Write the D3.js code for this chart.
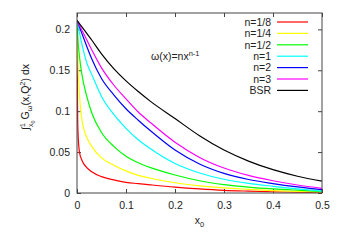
<!DOCTYPE html>
<html>
  <head>
    <script src="https://d3js.org/d3.v7.min.js"></script>
    <style>
      body { margin: 0; background: #fff; overflow: hidden; }
      svg { display: block; }
      text { font-family: "Liberation Sans", Arial, sans-serif; fill: #222; }
      .axis .domain { display: none; }
      .axis .tick line { stroke: #444; }
      .axis .tick text { font-size: 10.5px; fill: #222; }
    </style>
  </head>
  <body>
    <svg width="345" height="241"></svg>
    <script>
      // x0 grid, dense near zero where the small-n curves fall steeply
      const xs = [0, 0.001, 0.002, 0.005, 0.01, 0.02, 0.03, 0.05, 0.075, 0.1, 0.125, 0.15, 0.2, 0.25, 0.3, 0.35, 0.4, 0.45, 0.5];

      const n18 = [0.211, 0.110, 0.075, 0.050, 0.040, 0.031, 0.026, 0.020, 0.016, 0.013, 0.0115, 0.010, 0.0072, 0.005, 0.0033, 0.0023, 0.0015, 0.001, 0.0005];
      const n14 = [0.211, 0.180, 0.158, 0.120, 0.090, 0.068, 0.057, 0.043, 0.034, 0.027, 0.0215, 0.018, 0.0125, 0.0088, 0.0062, 0.0045, 0.003, 0.002, 0.001];
      const n12 = [0.211, 0.198, 0.187, 0.167, 0.145, 0.118, 0.098, 0.074, 0.057, 0.045, 0.037, 0.031, 0.022, 0.015, 0.0103, 0.0072, 0.005, 0.0034, 0.002];
      const n1  = [0.211, 0.208, 0.205, 0.196, 0.182, 0.159, 0.145, 0.118, 0.096, 0.079, 0.065, 0.054, 0.036, 0.0245, 0.0168, 0.0118, 0.0082, 0.005, 0.0024];
      const n2  = [0.211, 0.2095, 0.208, 0.203, 0.195, 0.179, 0.164, 0.140, 0.120, 0.103, 0.089, 0.076, 0.0525, 0.0355, 0.024, 0.0165, 0.0115, 0.0074, 0.004];
      const n3  = [0.211, 0.2098, 0.2085, 0.205, 0.199, 0.187, 0.175, 0.153, 0.132, 0.115, 0.099, 0.086, 0.062, 0.0435, 0.0305, 0.0215, 0.015, 0.0098, 0.0057];
      const bsr = [0.211, 0.2102, 0.2095, 0.207, 0.203, 0.195, 0.187, 0.170, 0.152, 0.137, 0.124, 0.112, 0.091, 0.070, 0.0525, 0.039, 0.0285, 0.0205, 0.0146];

      const labels = ["n=1/8", "n=1/4", "n=1/2", "n=1", "n=2", "n=3", "BSR"];
      const colors = ["#ff0000", "#ffff00", "#00ff00", "#00ffff", "#0000ff", "#ff00ff", "#000000"];
      const xTicks = [0, 0.1, 0.2, 0.3, 0.4, 0.5];
      const yTicks = [0, 0.05, 0.1, 0.15, 0.2];

      const series = [n18, n14, n12, n1, n2, n3, bsr].map((vals, i) => ({
        label: labels[i],
        color: colors[i],
        points: vals.map((v, j) => [xs[j], v])
      }));

      const svg = d3.select("svg");
      const margin = {top: 13, right: 23, bottom: 48, left: 77};
      const width = +svg.attr("width"), height = +svg.attr("height");
      const innerWidth = width - margin.left - margin.right;
      const innerHeight = height - margin.top - margin.bottom;

      const x = d3.scaleLinear().domain([0, 0.5]).range([0, innerWidth]);
      const y = d3.scaleLinear().domain([0, 0.22]).range([innerHeight, 0]);

      // lays out text pieces (sub/superscripts) as separate text elements
      function richText(parent, pieces, anchorMiddle) {
        const grp = parent.append("g");
        let cx = 0;
        pieces.forEach(p => {
          const t = grp.append("text")
            .attr("x", cx + (p.dx || 0)).attr("y", p.dy || 0)
            .style("font-size", (p.size || 10.5) + "px")
            .text(p.t);
          cx += (p.dx || 0) + (p.stay ? 0 : t.node().getComputedTextLength());
        });
        if (anchorMiddle) grp.attr("transform", `translate(${-cx / 2}, 0)`);
        return grp;
      }

      const g = svg.append("g").attr("transform", `translate(${margin.left}, ${margin.top})`);

      // axes, gnuplot style: inward ticks, mirrored
      g.append("g").attr("class", "axis")
        .attr("transform", `translate(0, ${innerHeight})`)
        .call(d3.axisBottom(x).tickValues(xTicks).tickSizeInner(-4).tickPadding(9)
          .tickFormat(d3.format("")));
      g.append("g").attr("class", "axis")
        .call(d3.axisTop(x).tickValues(xTicks).tickSizeInner(-4))
        .selectAll("text").remove();
      g.append("g").attr("class", "axis")
        .call(d3.axisLeft(y).tickValues(yTicks).tickSizeInner(-4).tickPadding(7)
          .tickFormat(d3.format("")));
      g.append("g").attr("class", "axis")
        .attr("transform", `translate(${innerWidth}, 0)`)
        .call(d3.axisRight(y).tickValues(yTicks).tickSizeInner(-4))
        .selectAll("text").remove();

      const line = d3.line()
        .x(d => x(d[0]))
        .y(d => y(d[1]))
        .curve(d3.curveMonotoneX);

      g.append("defs").append("clipPath").attr("id", "clip")
        .append("rect").attr("width", innerWidth).attr("height", innerHeight);

      g.append("g").attr("clip-path", "url(#clip)")
        .selectAll("path").data(series).enter().append("path")
          .attr("d", d => line(d.points))
          .attr("fill", "none")
          .attr("stroke", d => d.color)
          .attr("stroke-width", 1.2);

      g.append("rect")
        .attr("width", innerWidth).attr("height", innerHeight)
        .attr("fill", "none").attr("stroke", "#444").attr("stroke-width", 1);

      // legend
      const legend = g.append("g").attr("transform", "translate(194, 9)");
      const row = legend.selectAll("g").data(series).enter().append("g")
        .attr("transform", (d, i) => `translate(0, ${i * 11.4})`);
      row.append("text")
        .attr("text-anchor", "end").attr("y", 3.7)
        .style("font-size", "10.5px")
        .text(d => d.label);
      row.append("line")
        .attr("x1", 6).attr("x2", 37)
        .attr("stroke", d => d.color).attr("stroke-width", 1.2);

      // annotation
      richText(g.append("g").attr("transform", "translate(74, 47)"), [
        {t: "ω(x)=nx"},
        {t: "n-1", size: 7.5, dy: -4}
      ]);

      // x label
      richText(svg.append("g").attr("transform", `translate(${margin.left + innerWidth / 2}, 224)`), [
        {t: "x"},
        {t: "0", size: 7.5, dy: 3}
      ], true);

      // y label
      richText(svg.append("g")
        .attr("transform", `translate(29, ${margin.top + innerHeight / 2 - 6}) rotate(-90)`), [
        {t: "∫"},
        {t: "1", size: 7, dy: -4, stay: true},
        {t: "x", size: 7, dy: 4},
        {t: "0", size: 5.5, dy: 6},
        {t: "G", dx: 1},
        {t: "ω", size: 7.5, dy: 3},
        {t: "(x,Q"},
        {t: "2", size: 7.5, dy: -4},
        {t: ") dx"}
      ], true);
    </script>
  </body>
</html>
